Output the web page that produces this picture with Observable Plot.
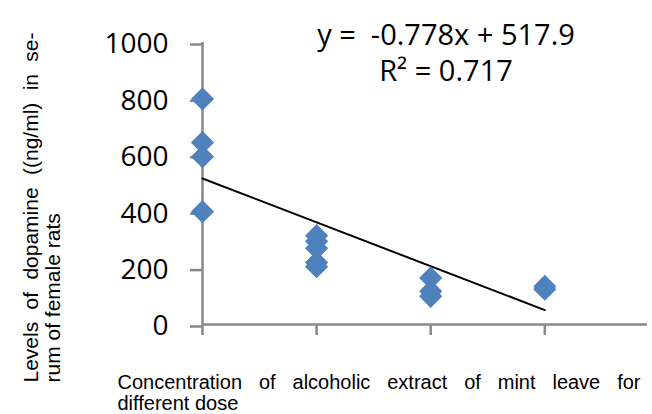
<!DOCTYPE html>
<html>
<head>
<meta charset="utf-8">
<script src="https://cdn.jsdelivr.net/npm/d3@7"></script>
<script src="https://cdn.jsdelivr.net/npm/@observablehq/plot@0.6"></script>
<style>
  html, body { margin: 0; padding: 0; background: #fff; }
  #chart { width: 652px; height: 414px; }
</style>
</head>
<body>
<div id="chart"></div>
<script>
// ---- data ----
const doses    = [0, 0, 0, 0, 200, 200, 200, 200, 200, 400, 400, 400, 600, 600];
const dopamine = [800, 645, 595, 400, 315, 295, 270, 220, 205, 165, 118, 100, 135, 125];
const yTicks = [0, 200, 400, 600, 800, 1000];
const xTicks = [0, 200, 400, 600];
const slope = -0.778;
const intercept = 517.9;
const rSquared = 0.717;
const yLabelLines = ["Levels of dopamine ((ng/ml) in se-", "rum of female rats"];
const xLabelLines = ["Concentration of alcoholic extract of mint leave for", "different dose"];

const points = doses.map((d, i) => ({dose: d, value: dopamine[i]}));
const xExt = d3.extent(doses);
const fitLine = xExt.map(x => ({dose: x, value: intercept + slope * x}));
const eqLine1 = `y =  ${slope}x + ${intercept}`;
const eqLine2 = `R² = ${rSquared}`;

const axisGray = "#898989";
const numFont = "'Open Sans', sans-serif";
const labFont = "'Liberation Sans', Arial, sans-serif";

const chart = Plot.plot({
  width: 652,
  height: 414,
  marginLeft: 202,
  marginRight: 5,
  marginTop: 42,
  marginBottom: 90,
  style: {background: "#fff", color: "#000"},
  x: {domain: [0, 780]},
  y: {domain: [0, 1000]},
  marks: [
    Plot.ruleY([0], {x1: 0, x2: 780, stroke: axisGray, strokeWidth: 2.5}),
    Plot.ruleX([0], {y1: 0, y2: 1000, stroke: axisGray, strokeWidth: 2.5}),
    Plot.axisY({ticks: yTicks, tickSize: 12, tickPadding: 22, tickFormat: d => String(d), stroke: axisGray, strokeWidth: 2.5,
      fontSize: 28, fontFamily: numFont, fill: "#000", dy: 2, label: null}),
    Plot.axisX({ticks: xTicks, tickSize: 11, tickFormat: () => "", stroke: axisGray, strokeWidth: 2.5, label: null}),
    Plot.line(fitLine, {x: "dose", y: "value", stroke: "#000", strokeWidth: 2}),
    Plot.dot(points, {x: "dose", y: "value", symbol: "diamond2", r: 9.5, fill: "#4f81bd", stroke: "#4f81bd", strokeWidth: 1.5}),
    Plot.text([eqLine1], {frameAnchor: "top", dx: 21, dy: -7, fontSize: 29, fontFamily: numFont, fill: "#000", textAnchor: "middle", lineAnchor: "middle"}),
    Plot.text([eqLine2], {frameAnchor: "top", dx: 21, dy: 29, fontSize: 29, fontFamily: numFont, fill: "#000", textAnchor: "middle", lineAnchor: "middle"}),
    Plot.text([yLabelLines[0]], {frameAnchor: "bottom-left", dx: -171, dy: 58, rotate: -90, textAnchor: "start", lineAnchor: "middle", fontSize: 21, fontFamily: labFont, fill: "#000"}),
    Plot.text([yLabelLines[1]], {frameAnchor: "bottom-left", dx: -149, dy: 58, rotate: -90, textAnchor: "start", lineAnchor: "middle", fontSize: 21, fontFamily: labFont, fill: "#000"}),
    Plot.text([xLabelLines[0]], {frameAnchor: "bottom-left", dx: -85, dy: 58, textAnchor: "start", lineAnchor: "middle", fontSize: 20, fontFamily: labFont, fill: "#000"}),
    Plot.text([xLabelLines[1]], {frameAnchor: "bottom-left", dx: -85, dy: 79, textAnchor: "start", lineAnchor: "middle", fontSize: 20, fontFamily: labFont, fill: "#000"})
  ]
});
document.getElementById("chart").appendChild(chart);

// justify the first line of each two-line axis title (as in the reference)
function justify(text, width) {
  const el = Array.from(chart.querySelectorAll("text")).find(t => t.textContent === text);
  if (!el) return;
  const natural = el.getComputedTextLength();
  const spaces = (text.match(/ /g) || []).length;
  if (spaces > 0 && width > natural) el.style.wordSpacing = ((width - natural) / spaces) + "px";
}
justify(yLabelLines[0], 350);
justify(xLabelLines[0], 523);
</script>
</body>
</html>
